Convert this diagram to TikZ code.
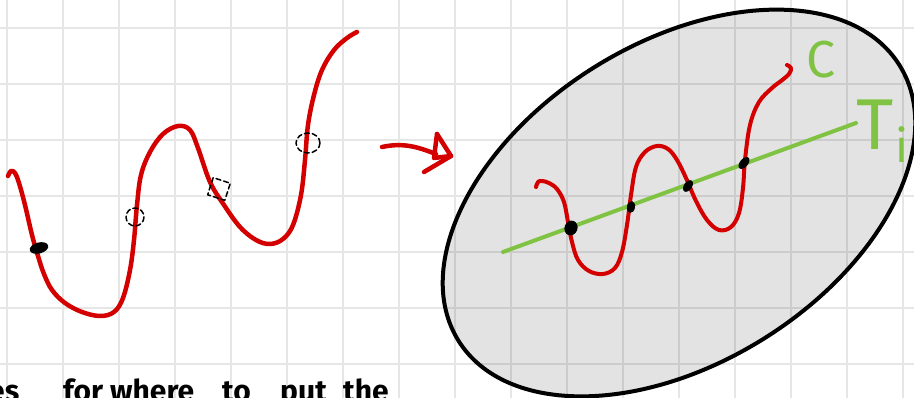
\documentclass[tikz,border=0pt]{standalone}
\usepackage{fontspec}
\setmainfont{Fira Sans}
\definecolor{inkred}{HTML}{D40000}
\definecolor{inkgreen}{HTML}{80C342}
\definecolor{gridc}{HTML}{E6E6E6}
\begin{document}
\begin{tikzpicture}[x=1pt,y=-1pt,line cap=round,line join=round,
  gridline/.style={draw=gridc,line width=2pt,line cap=butt},
  redink/.style={draw=inkred,line width=4.5pt},
  redthin/.style={draw=inkred,line width=4pt},
  greenink/.style={draw=inkgreen,line width=4pt},
  blob/.style={fill=black},
  dashmark/.style={draw=black,line width=1.5pt,dash pattern=on 5pt off 3pt},
  setbox/.style={draw=black,line width=4pt,fill=black,fill opacity=0.11},
  greenlabel/.style={text=inkgreen,inner sep=0pt},
  hand/.style={font=\fontsize{30}{30}\selectfont\bfseries,inner sep=0pt,anchor=base west}]
\useasboundingbox (0,0) rectangle (914,398);
\clip (0,0) rectangle (914,398);
\fill[white] (0,0) rectangle (914,398);
% grid
\foreach \gx in {7,63,...,903} \draw[gridline] (\gx,0) -- (\gx,398);
\foreach \gy in {28,84,...,364} \draw[gridline] (0,\gy) -- (914,\gy);
% left curve
\draw[redink] plot[smooth,tension=0.6] coordinates {(8,176) (11,171) (15,173) (19,183) (25,205) (32,235) (38,256) (44,274) (52,290) (65,303) (82,312) (100,316) (114,312) (123,298) (130,270) (134,240) (137,205) (141,175) (150,152) (163,134) (178,126) (190,130) (198,148) (210,182) (224,205) (240,227) (256,240) (270,244) (283,239) (293,225) (301,195) (305,160) (308,125) (314,95) (322,70) (334,50) (347,38) (357,32)};
\fill[blob,rotate around={15:(39,248)}] (39,248) ellipse (9.5 and 5.5);
\draw[dashmark] (135,217) circle (9);
\draw[dashmark,rotate around={-18:(219,189)}] (210,180) rectangle (228,198);
\draw[dashmark] (308,143) ellipse (12 and 10);
% arrow
\coordinate (as) at (382,147);
\coordinate (ae) at (436,154);
\coordinate (ht) at (437,134);
\coordinate (hp) at (451,156);
\coordinate (hb) at (424,172);
\coordinate (hm) at (434,158);
\draw[redink] (as) .. controls (405,142) and (420,148) .. (ae);
\draw[redink] (ht) -- (hp) -- (hb);
\draw[redink] (ht) -- (hm) -- (hp);
% set
\path[setbox,rotate around={32:(679,203)}] (679,203) ellipse (260 and 160);
% line T_i
\coordinate (ls) at (503,252);
\coordinate (le) at (856,123);
\draw[greenink] (ls) -- (le);
% curve C
\draw[redthin] plot[smooth,tension=0.6] coordinates {(536,187) (538,182) (542,181) (549,183) (557,189) (564,202) (568,222) (572,242) (578,260) (589,271) (603,274) (615,268) (622,252) (627,225) (631,195) (636,167) (645,152) (657,146) (668,149) (677,160) (686,178) (696,201) (707,220) (719,230) (731,227) (739,213) (743,188) (745,160) (750,125) (759,102) (772,88) (781,81) (789,74) (791,68) (787,65)};
\fill[blob,rotate around={-20:(571,228)}] (571,228) ellipse (6.5 and 7.5);
\fill[blob,rotate around={-10:(631,207)}] (631,207) ellipse (4 and 6);
\fill[blob,rotate around={-35:(688,186)}] (688,186) ellipse (4 and 6.5);
\fill[blob,rotate around={-40:(744,163)}] (744,163) ellipse (4 and 7);
% labels
\node[greenlabel,font=\fontsize{52}{52}\selectfont] (lc) at (821,60) {C};
\node[greenlabel,font=\fontsize{72}{72}\selectfont] (lt) at (875,125) {T};
\node[greenlabel,font=\fontsize{46}{46}\selectfont] (li) at (902,145) {i};
% bottom text (cut off as in the reference)
\node[hand] (w1) at (-12,401) {es};
\node[hand] (w2) at (63,401) {for};
\node[hand] (w3) at (110,401) {where};
\node[hand] (w4) at (222,401) {to};
\node[hand] (w5) at (280,401) {put};
\node[hand] (w6) at (343,401) {the};
\end{tikzpicture}
\end{document}
